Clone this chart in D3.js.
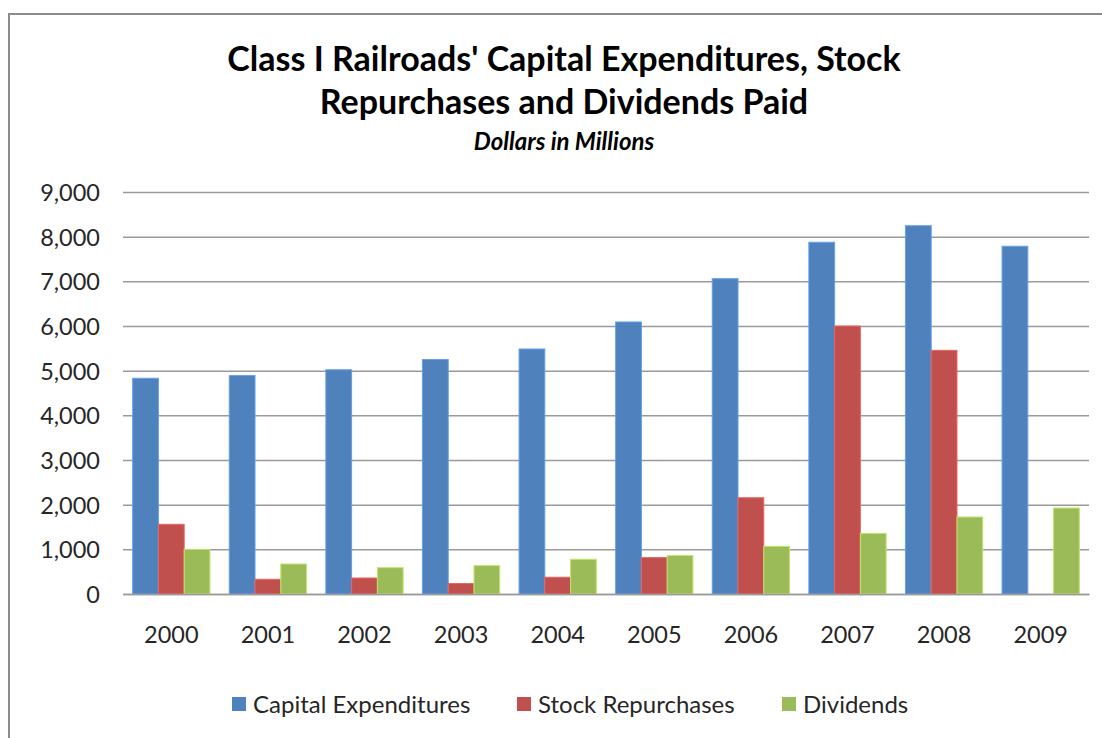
<!DOCTYPE html>
<html>
<head>
<meta charset="utf-8">
<script src="https://cdn.jsdelivr.net/npm/d3@7"></script>
<style>
  html, body { margin: 0; padding: 0; background: #fff; }
  svg { display: block; }
  text { font-family: Lato, "Open Sans", sans-serif; }
</style>
</head>
<body>
<svg id="chart" width="1102" height="738"></svg>
<script>
const years = ["2000","2001","2002","2003","2004","2005","2006","2007","2008","2009"];
const seriesNames = ["Capital Expenditures","Stock Repurchases","Dividends"];
const capitalExpenditures = [4830, 4890, 5020, 5250, 5485, 6090, 7060, 7875, 8245, 7785];
const stockRepurchases   = [1560, 330, 358, 235, 375, 815, 2155, 6000, 5455, 0];
const dividends          = [1000, 672, 590, 636, 778, 862, 1068, 1358, 1724, 1925];
const yTicks = [0,1000,2000,3000,4000,5000,6000,7000,8000,9000];
const colors = ["#4F81BD", "#C0504D", "#9BBB59"];
const titleLines = ["Class I Railroads' Capital Expenditures, Stock", "Repurchases and Dividends Paid"];
const subtitle = "Dollars in Millions";

const seriesValues = [capitalExpenditures, stockRepurchases, dividends];
const svg = d3.select("#chart");

// outer chart border
svg.append("rect").attr("x", 9).attr("y", 14).attr("width", 1200).attr("height", 800)
  .attr("fill", "none").attr("stroke", "#8c8c8c").attr("stroke-width", 2);

const plotL = 123, plotR = 1089, plotT = 192, plotB = 594;
const x0 = d3.scaleBand().domain(years).range([plotL, plotR]).paddingInner(0).paddingOuter(0);
const bw = x0.bandwidth() / 3.75;
const gap = x0.bandwidth() - 3 * bw;
const x1 = d3.scaleBand().domain(seriesNames).range([gap / 2, x0.bandwidth() - gap / 2]);
const y = d3.scaleLinear().domain([0, 9000]).range([plotB, plotT]);

// gridlines via axis
const yAxis = d3.axisLeft(y).tickValues(yTicks).tickSize(-(plotR - plotL)).tickFormat(d3.format(","));
const gy = svg.append("g").attr("transform", `translate(${plotL},0)`).call(yAxis);
gy.select(".domain").remove();
gy.selectAll(".tick line").attr("stroke", "#9a9a9a").attr("stroke-width", 1.5);
gy.selectAll(".tick text").attr("x", -23).attr("fill", "#262626")
  .style("font-size", "23.5px").attr("dy", "0.36em");

// bars
const groups = svg.append("g").selectAll("g").data(years).join("g")
  .attr("transform", d => `translate(${x0(d)},0)`);
groups.selectAll("rect")
  .data((d, i) => seriesNames.map((s, k) => ({ s, k, v: seriesValues[k][i] })))
  .join("rect")
  .filter(d => d.v > 0)
  .attr("x", d => x1(d.s))
  .attr("width", x1.bandwidth())
  .attr("y", d => y(d.v))
  .attr("height", d => y(0) - y(d.v))
  .attr("fill", d => colors[d.k])
  .attr("stroke", d => d3.color(colors[d.k]).brighter(0.6))
  .attr("stroke-width", 1);

// x axis
const xAxis = d3.axisBottom(x0).tickSize(0).tickPadding(0);
const gx = svg.append("g").attr("transform", `translate(0,${plotB})`).call(xAxis);
gx.select(".domain").attr("stroke", "#9a9a9a").attr("stroke-width", 1.5);
gx.selectAll(".tick text").attr("y", 49).attr("dy", 0).attr("fill", "#262626")
  .style("font-size", "23.5px");

// titles
svg.append("text").attr("x", 564).attr("y", 71).attr("text-anchor", "middle")
  .style("font-size", "34px").style("font-weight", "700").attr("fill", "#000").text(titleLines[0]);
svg.append("text").attr("x", 564).attr("y", 114).attr("text-anchor", "middle")
  .style("font-size", "34px").style("font-weight", "700").attr("fill", "#000").text(titleLines[1]);
svg.append("text").attr("x", 564).attr("y", 150).attr("text-anchor", "middle")
  .style("font-size", "24px").style("font-weight", "700").style("font-style", "italic")
  .attr("fill", "#000").text(subtitle);

// legend
const legendX = [232, 517, 782];
const lg = svg.append("g").selectAll("g").data(seriesNames).join("g")
  .attr("transform", (d, i) => `translate(${legendX[i]},704)`);
lg.append("rect").attr("x", 0).attr("y", -7).attr("width", 14).attr("height", 14)
  .attr("fill", (d, i) => colors[i]);
lg.append("text").attr("x", 21).attr("y", 0).attr("dy", "0.36em").attr("fill", "#262626")
  .style("font-size", "24px").text(d => d);
</script>
</body>
</html>
